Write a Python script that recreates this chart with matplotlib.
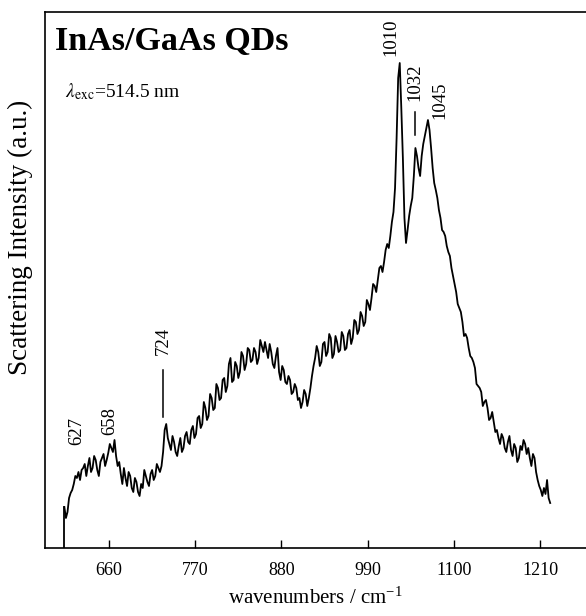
import numpy as np
import matplotlib
matplotlib.use("Agg")
import matplotlib.pyplot as plt

plt.rcParams['font.family'] = ['Liberation Serif', 'DejaVu Serif']
plt.rcParams['mathtext.fontset'] = 'stix'

## Raman spectrum, wavenumber grid (cm^-1) and intensity (a.u.)
wavenumbers = np.arange(603, 1224, 2)
intensity = [
    41, 30, 36, 50, 55, 58, 64, 72, 70, 76, 68, 78, 80, 84, 72, 82, 90, 76, 80, 92,
    88, 78, 72, 86, 90, 94, 82, 88, 95, 104, 100, 96, 108, 92, 82, 86, 74, 64, 80, 70,
    62, 76, 72, 60, 56, 70, 66, 56, 52, 64, 60, 78, 72, 66, 62, 74, 78, 68, 72, 84,
    80, 76, 82, 96, 118, 124, 110, 104, 98, 112, 106, 96, 92, 102, 110, 96, 100, 112, 116, 106,
    104, 118, 122, 110, 114, 130, 132, 120, 124, 146, 140, 128, 132, 154, 150, 138, 140, 164, 160, 148,
    150, 168, 170, 156, 162, 184, 190, 166, 168, 186, 182, 170, 176, 196, 192, 178, 184, 200, 198, 186,
    188, 200, 196, 184, 190, 208, 202, 196, 206, 198, 190, 204, 196, 184, 180, 192, 200, 176, 168, 182,
    178, 166, 164, 172, 168, 154, 156, 164, 160, 148, 150, 140, 146, 158, 154, 142, 150, 160, 172, 182,
    190, 202, 196, 182, 186, 204, 206, 192, 196, 214, 210, 190, 194, 212, 206, 196, 198, 216, 212, 198,
    200, 214, 218, 204, 210, 228, 226, 214, 218, 236, 232, 222, 226, 248, 244, 238, 250, 264, 262, 256,
    268, 280, 282, 276, 286, 298, 304, 300, 312, 326, 336, 360, 410, 470, 485, 440, 390, 330, 305, 318,
    332, 342, 350, 372, 400, 392, 380, 372, 392, 404, 412, 420, 428, 418, 400, 380, 365, 358, 350, 338,
    330, 318, 316, 312, 302, 296, 292, 280, 272, 264, 256, 244, 240, 236, 226, 212, 214, 210, 200, 192,
    190, 186, 180, 164, 162, 160, 156, 142, 146, 148, 140, 128, 130, 136, 126, 116, 118, 110, 104, 114,
    110, 100, 96, 106, 112, 98, 92, 104, 100, 86, 90, 102, 98, 108, 104, 94, 100, 90, 82, 94,
    90, 76, 68, 62, 58, 52, 60, 54, 68, 50, 45,
]

# peak labels: text, x, y of label, marker line (or None)
peak_labels = ['1010', '1032', '1045', '724', '627', '658']
peak_label_x = [1020, 1050.5, 1082.5, 729, 619, 661.5]
peak_label_y = [511, 466, 448, 207, 117, 127]
peak_marks = [None, (413, 436), None, (131, 178), None, None]

xticks = [660, 770, 880, 990, 1100, 1210]

fig = plt.figure(figsize=(5.86, 6.16), dpi=100)
ax = fig.add_axes([0.0768, 0.1104, 0.9232, 0.8701])

ax.plot(wavenumbers, intensity, color='black', lw=1.3)
# spectrum starts from the baseline
ax.plot([wavenumbers[0], wavenumbers[0]], [0, intensity[0]], color='black', lw=1.3)

for lab, lx, ly, mk in zip(peak_labels, peak_label_x, peak_label_y, peak_marks):
    ax.text(lx, ly, lab, rotation=90, ha='center', va='center', fontsize=13.5)
    if mk is not None:
        ax.plot([lx, lx], mk, color='black', lw=1.1)

ax.text(0.018, 0.929, 'InAs/GaAs QDs', transform=ax.transAxes,
        fontsize=24.5, fontweight='bold', va='baseline')
ax.text(0.037, 0.841, r'$\lambda_{\rm exc}$=514.5 nm', transform=ax.transAxes,
        fontsize=14, va='baseline')

ax.set_xlim(578.3, 1268.7)
ax.set_ylim(0, 536)
ax.set_xticks(xticks)
ax.set_yticks([])
ax.tick_params(axis='x', direction='in', length=6, width=1, labelsize=13, pad=10)
for s in ['left', 'bottom', 'top']:
    ax.spines[s].set_linewidth(1.2)
ax.spines['right'].set_visible(False)

ax.set_xlabel(r'wavenumbers / cm$^{\mathregular{-1}}$', fontsize=15, labelpad=6)
ax.set_ylabel('Scattering Intensity (a.u.)', fontsize=19.5)
ax.yaxis.set_label_coords(-0.022, 0.58)

fig.savefig('out.png', dpi=100)
